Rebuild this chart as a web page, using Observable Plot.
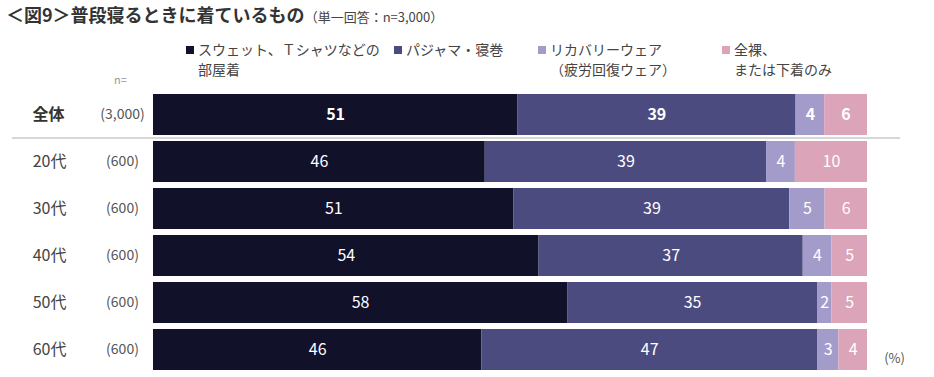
<!DOCTYPE html>
<html><head><meta charset="utf-8">
<script src="https://cdn.jsdelivr.net/npm/d3@7"></script>
<script src="https://cdn.jsdelivr.net/npm/@observablehq/plot@0.6"></script>
<style>
body{margin:0;background:#fff;font-family:"Noto Sans CJK JP","Noto Sans",sans-serif;}
#wrap{position:relative;width:934px;height:377px;overflow:hidden;}
#head{position:relative;height:88px;}
.title{position:absolute;left:6px;top:1px;font-size:18px;font-weight:700;color:#333;white-space:nowrap;}
.title span{font-size:13px;font-weight:400;color:#444;}
.lg{position:absolute;top:39px;font-size:14px;line-height:20px;color:#444;white-space:nowrap;}
.lg i{display:inline-block;width:8px;height:8px;margin-right:4px;vertical-align:1px;}
.lg .l2{padding-left:12px;}
.nlab{position:absolute;left:114px;top:71px;font-size:11px;color:#999;}
</style></head>
<body><div id="wrap"><div id="head"></div><div id="chart"></div></div>
<script>
const rows = ["全体","20代","30代","40代","50代","60代"];
const counts = ["(3,000)","(600)","(600)","(600)","(600)","(600)"];
const seriesNames = ["スウェット、Ｔシャツなどの部屋着","パジャマ・寝巻","リカバリーウェア（疲労回復ウェア）","全裸、または下着のみ"];
const legendLines = [["スウェット、Ｔシャツなどの","部屋着"],["パジャマ・寝巻",""],["リカバリーウェア","（疲労回復ウェア）"],["全裸、","または下着のみ"]];
const sweat    = [51,46,51,54,58,46];
const pajama   = [39,39,39,37,35,47];
const recovery = [4,4,5,4,2,3];
const naked    = [6,10,6,5,5,4];
const colors = ["#12112a","#4c4b80","#a39ccb","#dca4b9"];
const legendX = [186,394,538,722];

const head = document.getElementById("head");
head.innerHTML = `<div class="title">＜図9＞普段寝るときに着ているもの<span>（単一回答：n=3,000）</span></div><div class="nlab">n=</div>` +
  legendLines.map((l,i)=>`<div class="lg" style="left:${legendX[i]}px"><i style="background:${colors[i]}"></i>${l[0]}<br><span class="l2">${l[1]}</span></div>`).join("");

const seriesVals = [sweat,pajama,recovery,naked];
const data = [];
rows.forEach((r,ri)=>seriesVals.forEach((vals,si)=>data.push({row:r,series:seriesNames[si],si,value:vals[ri]})));
const rowInfo = rows.map((r,i)=>({row:r,n:counts[i]}));
const isTotal = d=>d.row==="全体";
const notTotal = d=>d.row!=="全体";

const stackOpts = {x:"value", y:"row", z:"series", order:seriesNames, offset:"normalize"};

const plot = Plot.plot({
  width:934, height:289,
  marginLeft:153, marginRight:67, marginTop:0, marginBottom:1,
  style:{fontFamily:'"Noto Sans CJK JP","Noto Sans",sans-serif', background:"#fff"},
  x:{axis:null, domain:[0,1]},
  y:{axis:null, domain:rows, padding:0.12},
  color:{domain:seriesNames, range:colors},
  marks:[
    Plot.ruleY(["全体"], {y:d=>d, dy:23, stroke:"#b0b0b0", strokeWidth:1.2, insetLeft:-141, insetRight:-33}),
    Plot.barX(data, Plot.stackX({...stackOpts, fill:"series"})),
    Plot.text(data, Plot.stackX({...stackOpts, filter:notTotal, text:d=>String(d.value), fill:"white", fontSize:16})),
    Plot.text(data, Plot.stackX({...stackOpts, filter:isTotal, text:d=>String(d.value), fill:"white", fontSize:16, fontWeight:"bold"})),
    Plot.text(rowInfo, {filter:notTotal, y:"row", text:"row", frameAnchor:"left", dx:-104, textAnchor:"middle", fontSize:16, fill:"#444"}),
    Plot.text(rowInfo, {filter:isTotal, y:"row", text:"row", frameAnchor:"left", dx:-105, textAnchor:"middle", fontSize:16, fill:"#333", fontWeight:"bold"}),
    Plot.text(rowInfo, {y:"row", text:"n", frameAnchor:"left", dx:-31, textAnchor:"middle", fontSize:14, fill:"#555"}),
    Plot.text(["(%)"], {y:["60代"], text:d=>d, frameAnchor:"right", dx:27, dy:9, textAnchor:"middle", fontSize:13, fill:"#555"})
  ]
});
document.getElementById("chart").appendChild(plot);
</script></body></html>
